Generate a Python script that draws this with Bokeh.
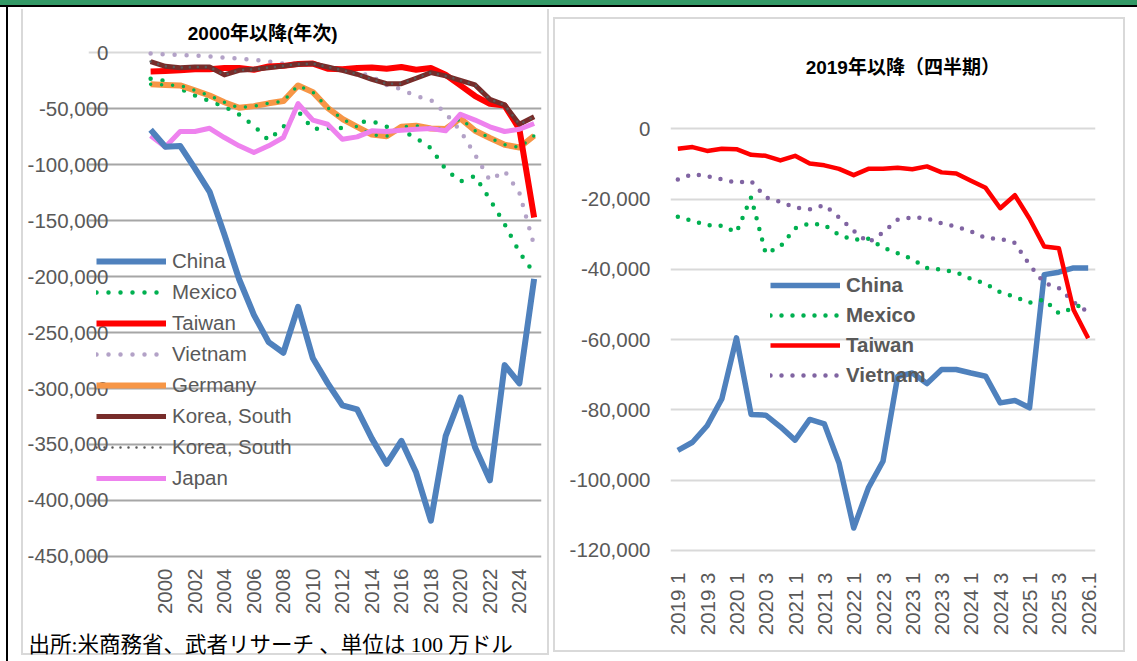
import math
from bokeh.plotting import figure
from bokeh.models import (Range1d, FixedTicker, NumeralTickFormatter, Legend,
                          LegendItem, Label, Grid, Title)
from bokeh.layouts import row
from bokeh.embed import file_html
from bokeh.resources import INLINE

# ---------------- data: annual (left panel), million USD ----------------
years = list(range(1999, 2026))
year_ticks = [2000, 2002, 2004, 2006, 2008, 2010, 2012, 2014, 2016, 2018, 2020, 2022, 2024]
left_y_ticks = [0, -50000, -100000, -150000, -200000, -250000, -300000, -350000, -400000, -450000]

china_y = [-68700, -83800, -83100, -103100, -124100, -162300, -202300, -234100, -258500, -268000,
           -226900, -273000, -295200, -315100, -318700, -344800, -367300, -346800, -375200, -418200,
           -342600, -308000, -352800, -382100, -279100, -295400, -202000]
mexico_y = [-23000, -25000, -32000, -38000, -43000, -48000, -55000, -65000, -78000, -66000,
            -52000, -68000, -67000, -67000, -62000, -61000, -66000, -69000, -76000, -85000,
            -104000, -115000, -110000, -131000, -153000, -178000, -197000]
taiwan_y = [-16500, -16100, -15500, -14600, -14500, -13500, -13500, -15000, -12000, -11500,
            -9800, -9500, -14000, -14500, -13500, -13000, -14000, -12500, -15000, -13500,
            -19500, -29000, -38500, -45500, -47000, -68000, -147000]
vietnam_y = [-500, -1200, -1800, -2100, -3100, -4200, -5000, -6000, -7700, -9500,
             -9500, -10800, -12800, -14500, -17000, -21000, -28500, -32500, -38500, -42000,
             -54000, -69500, -91000, -114000, -105500, -125000, -172000]
germany_y = [-28000, -28600, -29000, -33500, -38000, -44000, -49000, -47500, -45000, -43000,
             -29000, -35000, -49000, -59000, -66000, -73000, -74500, -66000, -65000, -67500,
             -68000, -58500, -69500, -76000, -82000, -84500, -74000]
korea_y = [-7700, -11900, -13100, -12500, -12500, -19600, -15500, -14600, -13100, -11600,
           -10100, -9500, -12500, -15500, -19000, -23500, -27400, -27400, -22600, -17600,
           -20500, -24400, -28600, -41400, -46400, -63700, -57100]
japan_y = [-74100, -84000, -70200, -70200, -67300, -75600, -83000, -89000, -83000, -75600,
           -45200, -60000, -63700, -77100, -75000, -69600, -70200, -69000, -68200, -67600,
           -69600, -54800, -60000, -66000, -70200, -68200, -63000]

# ---------------- data: quarterly (right panel), million USD ----------------
quarter_labels = ["2019 1", "2019 2", "2019 3", "2019 4", "2020 1", "2020 2", "2020 3", "2020 4",
                  "2021 1", "2021 2", "2021 3", "2021 4", "2022 1", "2022 2", "2022 3", "2022 4",
                  "2023 1", "2023 2", "2023 3", "2023 4", "2024 1", "2024 2", "2024 3", "2024 4",
                  "2025 1", "2025 2", "2025 3", "2025 4", "2026.1"]
right_y_ticks = [0, -20000, -40000, -60000, -80000, -100000, -120000]

china_q = [-91500, -89200, -84500, -76900, -59500, -81300, -81500, -84800, -88600, -82700,
           -84000, -95100, -113600, -102200, -94600, -70500, -69500, -72500, -68500, -68500,
           -69500, -70400, -78000, -77300, -79400, -41500, -40800, -39600, -39600]
mexico_q = [-25000, -26200, -27400, -27600, -29500, -19500, -35500, -33500, -28300, -26900,
            -27400, -30200, -31600, -31300, -33800, -35400, -37100, -39600, -40100, -40800,
            -42700, -44100, -46500, -47800, -49500, -48600, -52500, -51000, -49300]
taiwan_q = [-5700, -5200, -6300, -5700, -5800, -7400, -7700, -9000, -7700, -9900,
            -10400, -11400, -13200, -11400, -11400, -11100, -11500, -10700, -12400, -12700,
            -14800, -16800, -22600, -18900, -25600, -33500, -34000, -51500, -59600]
vietnam_q = [-14400, -12900, -13500, -14400, -15300, -14900, -19500, -20800, -22400, -22900,
             -21700, -25200, -29000, -32400, -29500, -25900, -25200, -25500, -26900, -27800,
             -29200, -31100, -31300, -32500, -38700, -43900, -45300, -49300, -52200]
quarter_x = list(range(len(quarter_labels)))

FONT = "Liberation Sans"
CJK = "Liberation Sans, Noto Sans CJK JP"
GRAY = "#595959"


def bar(color, x, y, w, h):
    return f"linear-gradient({color},{color}) {x} {y} / {w} {h} no-repeat"


# page frame decorations (green header strip, black rule, light panel borders)
left_bg = ", ".join([
    bar("#339966", "0", "0", "100%", "5px"),
    bar("#000000", "0", "5px", "100%", "2px"),
    bar("#000000", "6px", "0", "2px", "100%"),
    bar("#D9D9D9", "21px", "9px", "2px", "646px"),
    bar("#D9D9D9", "547px", "9px", "2px", "646px"),
    bar("#D9D9D9", "21px", "653px", "528px", "2px"),
]) + ", #ffffff"
right_bg = ", ".join([
    bar("#339966", "0", "0", "100%", "5px"),
    bar("#000000", "0", "5px", "100%", "2px"),
    bar("#D9D9D9", "1px", "17px", "2px", "635px"),
    bar("#D9D9D9", "571px", "17px", "2px", "635px"),
    bar("#D9D9D9", "1px", "17px", "572px", "2px"),
    bar("#D9D9D9", "1px", "650px", "572px", "2px"),
]) + ", #ffffff"


def style_axes(p, standoff_x, standoff_y):
    for ax in (p.xaxis[0], p.yaxis[0]):
        ax.axis_line_color = None
        ax.major_tick_line_color = None
        ax.minor_tick_line_color = None
        ax.major_tick_out = 0
        ax.major_tick_in = 0
        ax.minor_tick_out = 0
        ax.minor_tick_in = 0
        ax.major_label_text_font = FONT
        ax.major_label_text_font_size = "20.5px"
        ax.major_label_text_color = GRAY
    p.xaxis[0].major_label_standoff = standoff_x
    p.yaxis[0].major_label_standoff = standoff_y
    p.yaxis[0].formatter = NumeralTickFormatter(format="0,0")


# ======================= LEFT: annual =======================
# 14.75 px per year; frame starts 40 px left of the first category slot
p1 = figure(frame_width=453, frame_height=558, min_border_left=88, min_border_right=11,
            min_border_top=0, min_border_bottom=103,
            x_range=Range1d(1997.5 - 40 / 14.75, 2025.5), y_range=Range1d(-452000, 46940),
            output_backend="svg", toolbar_location=None, outline_line_color=None,
            background_fill_color=None, border_fill_color=None,
            styles={"background": left_bg})
style_axes(p1, 10, -20)
p1.xaxis[0].ticker = FixedTicker(ticks=year_ticks)
p1.xaxis[0].major_label_orientation = math.pi / 2
p1.yaxis[0].ticker = FixedTicker(ticks=left_y_ticks)
p1.xgrid.visible = False
p1.ygrid.ticker = FixedTicker(ticks=left_y_ticks[1:])
p1.ygrid.grid_line_color = "#A6A6A6"
p1.ygrid.grid_line_width = 2
p1.ygrid.bounds = (1997.5, 2025.5)
p1.add_layout(Grid(dimension=1, ticker=FixedTicker(ticks=[0]), bounds=(1997.5, 2025.5),
                   grid_line_color="#D9D9D9", grid_line_width=2))

r_vn = p1.line(years, vietnam_y, line_color="#B3A2C7", line_width=4.5,
               line_dash="0 12", line_cap="round")
r_mx = p1.line(years, mexico_y, line_color="#00B050", line_width=4.5,
               line_dash="0 12", line_cap="round")
r_de = p1.line(years, germany_y, line_color="#F79646", line_width=6, line_join="round")
p1.line(years, germany_y, line_color="#00B050", line_width=3.5,
        line_dash="0 11", line_cap="round")
r_tw = p1.line(years, taiwan_y, line_color="#FF0000", line_width=6, line_join="round")
r_kr = p1.line(years, korea_y, line_color="#772C2A", line_width=5, line_join="round")
r_kr2 = p1.line(years, korea_y, line_color="#595959", line_width=2.5,
                line_dash="0 8", line_cap="round")
r_jp = p1.line(years, japan_y, line_color="#EE82EE", line_width=5, line_join="round")
r_cn = p1.line(years, china_y, line_color="#4F81BD", line_width=6, line_join="round")

leg1 = Legend(items=[LegendItem(label="China", renderers=[r_cn]),
                     LegendItem(label="Mexico", renderers=[r_mx]),
                     LegendItem(label="Taiwan", renderers=[r_tw]),
                     LegendItem(label="Vietnam", renderers=[r_vn]),
                     LegendItem(label="Germany", renderers=[r_de]),
                     LegendItem(label="Korea, South", renderers=[r_kr]),
                     LegendItem(label="Korea, South", renderers=[r_kr2]),
                     LegendItem(label="Japan", renderers=[r_jp])],
              location=(8, 68), glyph_width=70, glyph_height=20, label_height=20,
              spacing=7, padding=0, margin=0, border_line_color=None,
              background_fill_alpha=0, label_text_font=FONT, label_text_font_size="20.5px",
              label_text_color=GRAY, label_standoff=6)
p1.add_layout(leg1)

p1.add_layout(Label(x=2006.6, y=17440, text="2000年以降(年次)", text_font=CJK,
                    text_font_style="bold", text_font_size="19px", text_color="black",
                    text_align="center", text_baseline="middle"))
p1.add_layout(Title(text="出所:米商務省、武者リサーチ 、単位は 100 万ドル", align="left",
                    offset=-60, standoff=26,
                    text_font="Liberation Serif, Noto Sans CJK JP", text_font_size="21.5px",
                    text_font_style="normal", text_color="black"), "below")

# ======================= RIGHT: quarterly =======================
p2 = figure(frame_width=425, frame_height=558, min_border_left=118, min_border_right=42,
            min_border_top=0, min_border_bottom=103,
            x_range=Range1d(-0.5, 28.5), y_range=Range1d(-122280, 36510),
            output_backend="svg", toolbar_location=None, outline_line_color=None,
            background_fill_color=None, border_fill_color=None,
            styles={"background": right_bg})
style_axes(p2, 14, 20)
p2.xaxis[0].ticker = FixedTicker(ticks=quarter_x[::2])
p2.xaxis[0].major_label_overrides = {i: quarter_labels[i] for i in quarter_x[::2]}
p2.xaxis[0].major_label_orientation = math.pi / 2
p2.yaxis[0].ticker = FixedTicker(ticks=right_y_ticks)
p2.xgrid.visible = False
p2.ygrid.ticker = FixedTicker(ticks=right_y_ticks)
p2.ygrid.grid_line_color = "#D9D9D9"
p2.ygrid.grid_line_width = 2

q_cn = p2.line(quarter_x, china_q, line_color="#4F81BD", line_width=5.5, line_join="round")
q_mx = p2.line(quarter_x, mexico_q, line_color="#00B050", line_width=4.5,
               line_dash="0 11", line_cap="round")
q_vn = p2.line(quarter_x, vietnam_q, line_color="#8064A2", line_width=4.5,
               line_dash="0 11", line_cap="round")
q_tw = p2.line(quarter_x, taiwan_q, line_color="#FF0000", line_width=4.5, line_join="round")

leg2 = Legend(items=[LegendItem(label="China", renderers=[q_cn]),
                     LegendItem(label="Mexico", renderers=[q_mx]),
                     LegendItem(label="Taiwan", renderers=[q_tw]),
                     LegendItem(label="Vietnam", renderers=[q_vn])],
              location=(100, 171), glyph_width=70, glyph_height=20, label_height=20,
              spacing=6, padding=0, margin=0, border_line_color=None,
              background_fill_alpha=0, label_text_font=FONT, label_text_font_size="20.5px",
              label_text_font_style="bold", label_text_color=GRAY, label_standoff=6)
p2.add_layout(leg2)

p2.add_layout(Label(x=15.35, y=17440, text="2019年以降（四半期）", text_font=CJK,
                    text_font_style="bold", text_font_size="19px", text_color="black",
                    text_align="center", text_baseline="middle"))

layout = row(p1, p2)
open("out.html", "w").write(file_html(layout, INLINE))
